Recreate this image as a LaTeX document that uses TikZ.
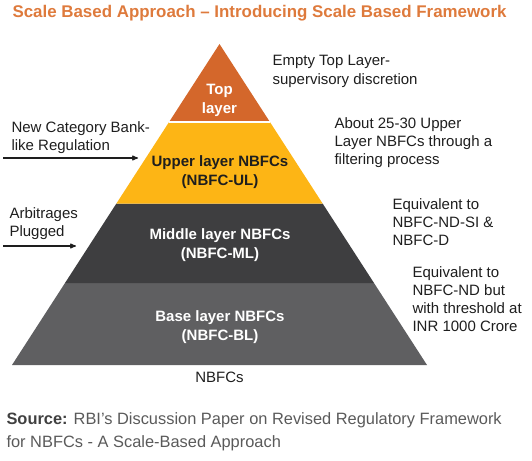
\documentclass[tikz,border=0pt]{standalone}
\usepackage{fontspec}
\setmainfont{Liberation Sans}
\usetikzlibrary{arrows,calc}
\definecolor{titleorange}{HTML}{DE7A3C}
\definecolor{toporange}{HTML}{D4672B}
\definecolor{upperyellow}{HTML}{FDB515}
\definecolor{middledark}{HTML}{3E3E40}
\definecolor{basegray}{HTML}{5F5F61}
\definecolor{notegray}{HTML}{1E1E1E}
\definecolor{srcgray}{HTML}{5A5A5A}
\tikzset{
  notenode/.style = {align=left, inner sep=0pt, anchor=base west,
    text=notegray, font=\fontsize{15}{18}\selectfont},% notes beside the pyramid, placed by last baseline
  layertext/.style = {align=center, inner sep=0pt, text centered,
    font=\bfseries\fontsize{15}{19}\selectfont},% text inside a layer
}

\begin{document}
\begin{tikzpicture}[x=1pt,y=-1pt,->,>=stealth',line width=1.1pt]
\useasboundingbox (0,0) rectangle (532,460);
% outline of the pyramid
\coordinate (apex) at (219.5,44);
\coordinate (bl) at (12,365);
\coordinate (br) at (427,365);
\coordinate (tl) at ($(apex)!0.243!(bl)$);
\coordinate (tr) at ($(apex)!0.243!(br)$);
\coordinate (ul) at ($(apex)!0.497!(bl)$);
\coordinate (ur) at ($(apex)!0.497!(br)$);
\coordinate (ml) at ($(apex)!0.745!(bl)$);
\coordinate (mr) at ($(apex)!0.745!(br)$);
\fill[basegray] (ml) -- (mr) -- (br) -- (bl) -- cycle;
\fill[middledark] (ul) -- (ur) -- (mr) -- (ml) -- cycle;
\fill[upperyellow] (tl) -- (tr) -- (ur) -- (ul) -- cycle;
\fill[toporange] (apex) -- (tr) -- (tl) -- cycle;
\draw[-,white,line width=1.2pt] (tl) -- (tr);

\node[anchor=base west, inner sep=0pt, text=titleorange,
  font=\bfseries\fontsize{16.9}{18}\selectfont] (title) at (12,18)
  {Scale Based Approach -- Introducing Scale Based Framework};

\node[layertext, white] (toplayer) at (219.5,100) {Top\\layer};
\node[layertext, notegray] (upperlayer) at (220,172) {Upper layer NBFCs\\(NBFC-UL)};
\node[layertext, white] (middlelayer) at (220,245) {Middle layer NBFCs\\(NBFC-ML)};
\node[layertext, white] (baselayer) at (220,327) {Base layer NBFCs\\(NBFC-BL)};

\node[notenode] (topnote) at (272,84) {Empty Top Layer-\\supervisory discretion};
\node[notenode] (uppernote) at (334,164) {About 25-30 Upper\\Layer NBFCs through a\\filtering process};
\node[notenode] (middlenote) at (392,245) {Equivalent to\\NBFC-ND-SI \&\\NBFC-D};
\node[notenode] (basenote) at (412,331) {Equivalent to\\NBFC-ND but\\with threshold at\\INR 1000 Crore};

\node[notenode] (banknote) at (11,150) {New Category Bank-\\like Regulation};
\node[notenode] (arbnote) at (9,236) {Arbitrages\\Plugged};
\coordinate (bankfrom) at (3,158);
\coordinate (bankto) at (138,158);
\coordinate (arbfrom) at (3,246);
\coordinate (arbto) at (76,246);
\draw[notegray] (bankfrom) -- (bankto);
\draw[notegray] (arbfrom) -- (arbto);

\node[anchor=base, inner sep=0pt, text=notegray,
  font=\fontsize{15}{18}\selectfont] (nbfcs) at (219.5,382) {NBFCs};

\node[notenode, text=srcgray, font=\fontsize{16.4}{22.5}\selectfont] (source) at (6,447)
  {\textcolor{notegray!85}{\bfseries Source:} RBI’s Discussion Paper on Revised Regulatory Framework\\for NBFCs - A Scale-Based Approach};
\end{tikzpicture}
\end{document}
